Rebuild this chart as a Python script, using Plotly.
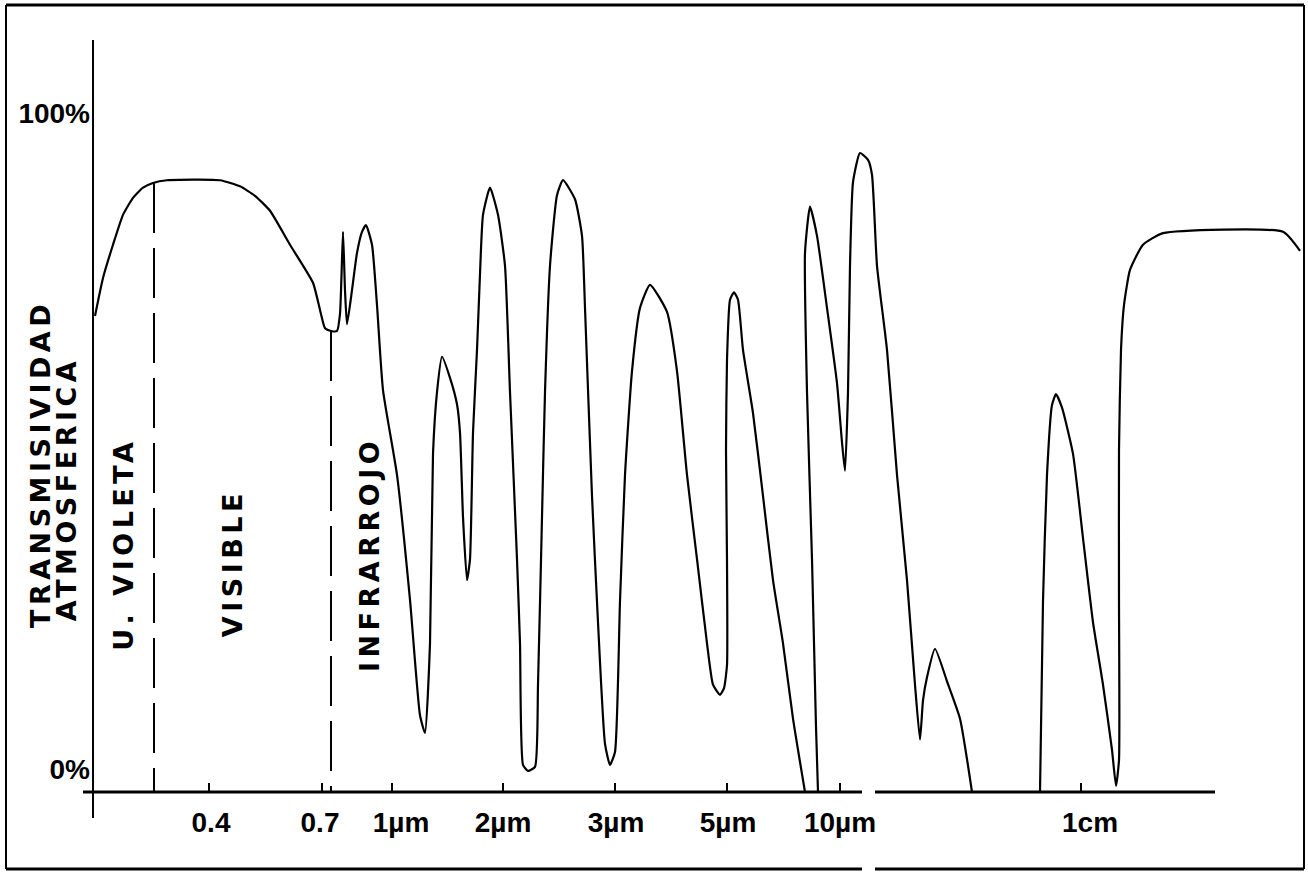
import plotly.graph_objects as go

# position along the (non-linear) wavelength axis, and atmospheric transmissivity (%)
# None marks the stretches where the curve lies on the axis (0 %)
wave_pos = [95, 103, 113, 123, 133, 143, 153, 167, 220, 240, 255, 270, 290, 313, 320, 325, 331, 337,
            340, 343, 345, 347, 352, 357, 362, 366, 372, 377, 383, 397, 410, 420, 425,
            430, 433, 437, 442, 450, 457, 460, 463, 467, 470, 473, 477, 480, 483, 490,
            498, 505, 510, 517, 520, 523, 528, 535, 538, 542, 545, 550, 557, 563,
            575, 582, 585, 592, 598, 605, 610, 615, 620, 625, 632, 640, 650,
            667, 677, 687, 697, 707, 713, 720, 724, 727, 727, 726, 727, 730, 734,
            738, 743, 753, 763, 773, 783, 793, 805, None,
            818, 816, 812, 807, 805, 810, 817, 827, 837, 842, 845, 848, 850, 853, 860,
            868, 872, 877, 887, 897, 907, 915, 920, 923, 927, 935, 947, 960, 972, None,
            1040, 1043, 1047, 1052, 1056, 1062, 1073, 1083, 1093, 1103, 1112, 1116,
            1119, 1119, 1119, 1121, 1124, 1130, 1143, 1163, 1283, 1300]
transmisividad = [70.1, 75.7, 80.6, 85.0, 87.5, 89.0, 89.7, 90.1, 90.1, 89.2, 87.8, 85.6, 80.6, 75.0, 71.0, 68.3, 67.9, 67.9,
                  70.4, 82.5, 73.9, 68.9, 73.9, 79.4, 82.5, 83.5, 80.6, 71.7, 59.2, 46.7, 28.3, 11.3, 8.7,
                  21.9, 49.8, 58.9, 64.1, 61.0, 57.1, 52.9, 40.5, 31.2, 34.3, 52.9, 65.1, 76.3, 85.0, 89.0,
                  85.0, 77.5, 58.9, 34.3, 21.9, 4.0, 3.1, 3.7, 15.8, 40.5, 58.9, 77.5, 87.9, 90.1,
                  87.3, 81.9, 71.3, 43.6, 25.0, 7.1, 4.0, 5.9, 28.1, 46.7, 62.0, 71.3, 74.7,
                  70.7, 62.0, 46.7, 34.3, 21.9, 15.8, 14.3, 15.3, 18.7, 34.2, 50.4, 63.6, 72.5, 73.6,
                  72.5, 65.1, 55.8, 43.6, 31.2, 21.9, 10.8, 0.0, None,
                  0.0, 9.6, 34.3, 58.9, 79.4, 86.2, 81.9, 71.3, 60.2, 51.5, 47.3, 58.9, 77.5, 89.8, 94.1,
                  93.1, 90.9, 77.5, 65.1, 46.7, 31.2, 15.8, 7.7, 13.5, 16.9, 21.1, 16.3, 10.8, 0.0, None,
                  0.0, 28.1, 46.7, 57.0, 58.6, 56.6, 49.8, 37.4, 25.0, 15.8, 6.2, 0.9,
                  4.7, 28.3, 50.4, 65.1, 71.7, 76.9, 80.6, 82.3, 82.5, 79.7]

# band boundaries (dashed lines): position and curve height
boundary_pos = [154, 331]
boundary_top = [89.7, 67.9]

# x-axis ticks and labels
tick_pos = [209, 322, 392, 503, 615, 727, 840, 1081]
label_pos = [211, 320, 401, 503, 616, 728, 840, 1090]
tick_text = ["0.4", "0.7", "1µm", "2µm", "3µm", "5µm", "10µm", "1cm"]

# y-axis labels
y_tick_vals = [3.4, 100]
y_tick_text = ["0%", "100%"]

# rotated region labels: text, position, value-height of centre
region_text = ["TRANSMISIVIDAD", "ATMOSFERICA", "U. VIOLETA", "VISIBLE", "INFRARROJO"]
region_x = [40, 66, 124, 232, 369]
region_y = [48.3, 44.6, 36.4, 33.7, 34.9]

W, H = 1308, 873
AXIS_PX = 792
PX_PER_UNIT = 6.79
y_lo = (AXIS_PX - H) / PX_PER_UNIT
y_hi = AXIS_PX / PX_PER_UNIT


def v(py):
    return (AXIS_PX - py) / PX_PER_UNIT


fig = go.Figure()
fig.add_trace(go.Scatter(x=wave_pos, y=transmisividad, mode="lines", connectgaps=False,
                         line=dict(color="black", width=2.2, shape="spline", smoothing=0.5),
                         hoverinfo="skip"))
for bx, bt in zip(boundary_pos, boundary_top):
    fig.add_trace(go.Scatter(x=[bx, bx], y=[bt, 0], mode="lines",
                             line=dict(color="black", width=2, dash="50px,15px"),
                             hoverinfo="skip"))
# carrier for tick marks axis
fig.add_trace(go.Scatter(x=tick_pos, y=[0] * len(tick_pos), mode="markers",
                         marker=dict(opacity=0), xaxis="x2", hoverinfo="skip"))

shapes = [
    # y axis line
    dict(type="line", xref="x", yref="y", x0=93, x1=93, y0=v(818), y1=v(40),
         line=dict(color="black", width=2)),
    # x axis line (with the scan splice gap)
    dict(type="line", xref="x", yref="y", x0=83, x1=862, y0=0, y1=0,
         line=dict(color="black", width=3)),
    dict(type="line", xref="x", yref="y", x0=875, x1=1215, y0=0, y1=0,
         line=dict(color="black", width=3)),
    # frame
    dict(type="line", xref="x", yref="y", x0=6, x1=1304, y0=v(5), y1=v(5),
         line=dict(color="black", width=3)),
    dict(type="line", xref="x", yref="y", x0=6, x1=6, y0=v(5), y1=v(869),
         line=dict(color="black", width=2)),
    dict(type="line", xref="x", yref="y", x0=1304, x1=1304, y0=v(5), y1=v(869),
         line=dict(color="black", width=2)),
    dict(type="line", xref="x", yref="y", x0=6, x1=862, y0=v(869), y1=v(869),
         line=dict(color="black", width=3)),
    dict(type="line", xref="x", yref="y", x0=875, x1=1304, y0=v(869), y1=v(869),
         line=dict(color="black", width=3)),
]

annotations = []
for t, ax, ay in zip(region_text, region_x, region_y):
    annotations.append(dict(
        x=ax, y=ay, xref="x", yref="y", showarrow=False, textangle=-90,
        text='<span style="letter-spacing:4.5px">' + t + '</span>',
        font=dict(family="DejaVu Sans, Liberation Sans, Arial", size=27, color="black", weight="bold"),
        xanchor="center", yanchor="middle"))

tick_font = dict(family="Liberation Sans Narrow, Arial Narrow, Liberation Sans, Arial",
                 size=28, color="black", weight="bold")

fig.update_layout(
    width=W, height=H, autosize=False,
    margin=dict(l=0, r=0, t=0, b=0, pad=0),
    paper_bgcolor="white", plot_bgcolor="white",
    showlegend=False,
    shapes=shapes, annotations=annotations,
    xaxis=dict(range=[0, W], showgrid=False, zeroline=False, showline=False,
               anchor="free", position=(H - AXIS_PX) / H,
               tickmode="array", tickvals=label_pos, ticktext=tick_text,
               ticks="", tickfont=tick_font, ticklabelstandoff=11, fixedrange=True),
    xaxis2=dict(range=[0, W], overlaying="x", showgrid=False, zeroline=False, showline=False,
                anchor="free", position=(H - AXIS_PX) / H, side="bottom",
                tickmode="array", tickvals=tick_pos, ticks="inside", ticklen=9,
                tickwidth=2, tickcolor="black", showticklabels=False, fixedrange=True),
    yaxis=dict(range=[y_lo, y_hi], showgrid=False, zeroline=False, showline=False,
               anchor="free", position=93 / W,
               tickmode="array", tickvals=y_tick_vals, ticktext=y_tick_text,
               ticks="", tickfont=tick_font, ticklabelstandoff=3, fixedrange=True),
)

fig.write_html("out.html")
